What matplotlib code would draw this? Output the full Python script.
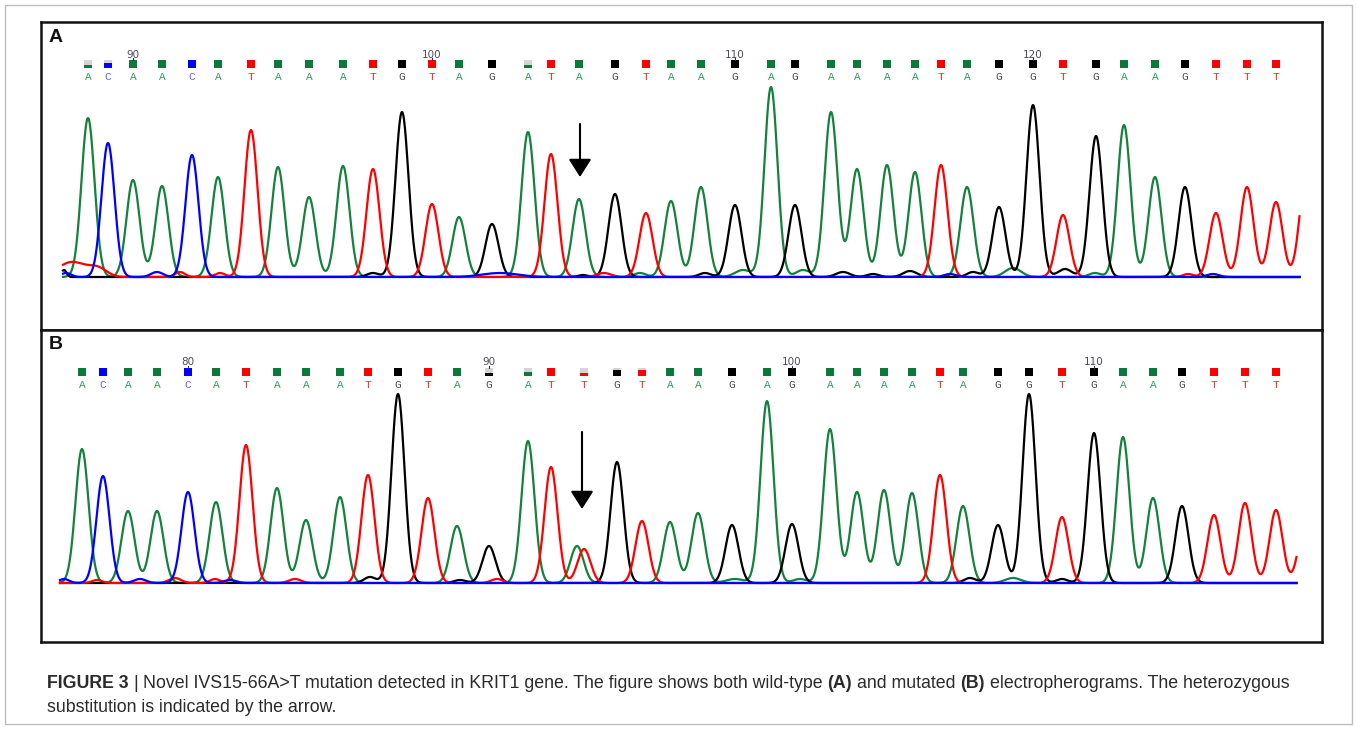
import matplotlib
matplotlib.use("Agg")
import matplotlib.pyplot as plt
from matplotlib.patches import Rectangle
import numpy as np

W, H = 1357, 729                      # taille de la figure en pixels (dpi 100)

# Panel A (wild-type) : bases appelées, position sur le tracé et hauteur des pics
BASES_A = "ACAACATAAATGTAGATAGTAAGAGAAAATAGGTGAAGTTT"
POS_A = [88, 108, 133, 162, 192, 218, 251, 278, 309, 343, 373, 402, 432, 459,
         492, 528, 551, 579, 615, 646, 671, 701, 735, 771, 795, 831, 857, 887, 915,
         941, 967, 999, 1033, 1063, 1096, 1124, 1155, 1185, 1216, 1247, 1276]
HAUT_A = [159, 134, 97, 91, 122, 100, 147, 110, 80, 111, 108, 165, 73, 60,
          53, 145, 123, 78, 83, 64, 76, 90, 72, 190, 72, 165, 108, 112, 105,
          112, 90, 70, 172, 62, 141, 152, 100, 90, 64, 90, 75]
QUAL_A = {0: 0.35, 1: 0.6, 15: 0.4}          # qualité (fraction colorée du carré)
PREMIER_A = 88                                # numéro de la première base
# petits pics de bruit / pics partiels : (base, position, hauteur, largeur)
MINEURS_A = [('T', 72, 15, 14), ('T', 98, 8, 9), ('G', 64, 7, 2.5), ('C', 66, 4, 5),
             ('C', 157, 5, 6), ('T', 180, 5, 5), ('T', 220, 4, 5), ('G', 373, 4, 6),
             ('C', 500, 4, 18), ('G', 583, 2, 5), ('T', 604, 4, 7), ('A', 640, 4, 6),
             ('G', 705, 4, 6), ('A', 743, 7, 8), ('A', 803, 7, 7), ('G', 843, 5, 7),
             ('G', 873, 3, 6), ('G', 910, 6, 7), ('C', 950, 3, 6), ('G', 973, 5, 6),
             ('A', 1013, 9, 8), ('G', 1065, 8, 7), ('A', 1095, 4, 6), ('T', 1188, 3, 5),
             ('C', 1213, 3, 6), ('T', 1306, 100, 6.5)]
DEBUT_A, FIN_A = 63, 1300
BASELINE_A = 277
FLECHE_A = (580, 153, 100)

# Panel B (mutated)
BASES_B = "ACAACATAAATGTAGATTGTAAGAGAAAATAGGTGAAGTTT"
POS_B = [82, 103, 128, 157, 188, 216, 246, 277, 306, 340, 368, 398, 428, 457,
         489, 528, 551, 584, 617, 642, 670, 698, 732, 767, 792, 830, 857, 884, 912,
         940, 963, 998, 1029, 1062, 1094, 1123, 1153, 1182, 1214, 1245, 1276]
HAUT_B = [134, 107, 72, 72, 91, 81, 138, 95, 63, 86, 108, 189, 85, 57,
          37, 142, 116, 34, 121, 62, 61, 70, 58, 182, 59, 154, 91, 93, 90,
          108, 77, 58, 189, 66, 150, 146, 85, 77, 68, 80, 73]
QUAL_B = {14: 0.3, 15: 0.5, 17: 0.3, 18: 0.75, 19: 0.75}
PREMIER_B = 76
MINEURS_B = [('C', 64, 4, 5), ('T', 97, 3, 5), ('C', 140, 4, 6), ('T', 175, 5, 6),
             ('T', 215, 4, 5), ('C', 230, 3, 6), ('T', 295, 4, 6), ('G', 370, 6, 6),
             ('G', 460, 3, 6), ('T', 497, 4, 6), ('A', 577, 37, 6.5), ('A', 735, 4, 9),
             ('A', 800, 4, 7), ('G', 970, 5, 6), ('A', 1013, 5, 8), ('G', 1062, 4, 6),
             ('T', 1305, 60, 6.5)]
DEBUT_B, FIN_B = 60, 1297
BASELINE_B = 583
FLECHE_B = (582, 151, 74)

COUL_TRACE = {'A': '#14823c', 'C': '#0000ff', 'G': '#000000', 'T': '#ff0000'}
COUL_CARRE = {'A': '#0a7a3a', 'C': '#0000ff', 'G': '#000000', 'T': '#ff0000'}
COUL_LETTRE = {'A': '#2e9a55', 'C': '#6a5cff', 'G': '#4a4a5a', 'T': '#f02828'}
SIGMA = 6.5


def trace(base, bases, pos, haut, mineurs, x):
    '''Somme des pics d'une base (gaussiennes) le long du tracé.'''
    y = np.zeros_like(x)
    for b, p, h in zip(bases, pos, haut):
        if b == base:
            y += h * np.exp(-(x - p) ** 2 / (2 * SIGMA ** 2))
    for b, p, h, s in mineurs:
        if b == base:
            y += h * np.exp(-(x - p) ** 2 / (2 * s ** 2))
    return y


def panneau(haut_px, bas_px, baseline, bases, pos, haut, qual, premier,
            mineurs, debut, fin, fleche, lettre):
    ax = fig.add_axes([41 / W, 1 - bas_px / H, (1322 - 41) / W, (bas_px - haut_px) / H])
    ax.set_xlim(41, 1322)
    ax.set_ylim(baseline - bas_px, baseline - haut_px)   # 1 unité = 1 pixel
    ax.set_xticks([])
    ax.set_yticks([])
    for sp in ax.spines.values():
        sp.set_linewidth(1.8)
        sp.set_color('#111111')

    x = np.arange(debut, fin, 0.5)
    for b in ['A', 'G', 'T', 'C']:
        ax.plot(x, trace(b, bases, pos, haut, mineurs, x), color=COUL_TRACE[b],
                lw=1.6, solid_joinstyle='round')

    y_carre = baseline - (haut_px + 42)
    y_lettre = y_carre - 13
    y_num = y_carre + 9.5
    c = 7.5
    for i, (b, p) in enumerate(zip(bases, pos)):
        q = qual.get(i, 1.0)
        if q < 1:
            ax.add_patch(Rectangle((p - c / 2, y_carre - c / 2), c, c, color='#d4d4d4', lw=0))
        ax.add_patch(Rectangle((p - c / 2, y_carre - c / 2), c, c * q,
                               color=COUL_CARRE[b], lw=0))
        ax.text(p, y_lettre, b, ha='center', va='center', fontsize=8,
                family='Liberation Mono', color=COUL_LETTRE[b])
        n = premier + i
        if n % 10 == 0:
            ax.text(p, y_num, str(n), ha='center', va='center', fontsize=7.5,
                    family='DejaVu Sans', color='#4a4a5c')
            ax.plot([p, p], [y_carre + c / 2, y_carre + c / 2 + 2.5], color='#333333', lw=0.8)

    xf, y0, y1 = fleche
    ax.annotate('', xy=(xf, y1), xytext=(xf, y0),
                arrowprops=dict(arrowstyle='-|>,head_length=1.1,head_width=0.7',
                                lw=1.5, color='black', shrinkA=0, shrinkB=0))
    ax.text(56, baseline - (haut_px + 15), lettre, ha='center', va='center',
            fontsize=14, fontweight='bold', family='Liberation Sans', color='#111111')
    return ax


fig = plt.figure(figsize=(W / 100, H / 100), dpi=100)
fig.add_artist(Rectangle((5 / W, 1 - 724 / H), 1347 / W, 719 / H, transform=fig.transFigure,
                         fill=False, ec='#bdbdbd', lw=1))

panneau(22, 330, BASELINE_A, BASES_A, POS_A, HAUT_A, QUAL_A, PREMIER_A,
        MINEURS_A, DEBUT_A, FIN_A, FLECHE_A, 'A')
panneau(330, 642, BASELINE_B, BASES_B, POS_B, HAUT_B, QUAL_B, PREMIER_B,
        MINEURS_B, DEBUT_B, FIN_B, FLECHE_B, 'B')

# Légende de la figure (texte gras / normal mélangé)
LIGNE1 = [("FIGURE 3", 'bold'), ("|", 'normal'),
          ("Novel IVS15-66A>T mutation detected in KRIT1 gene. The figure shows both wild-type", 'normal'),
          ("(A)", 'bold'), ("and mutated", 'normal'), ("(B)", 'bold'),
          ("electropherograms. The heterozygous", 'normal')]
LIGNE2 = [("substitution is indicated by the arrow.", 'normal')]
TAILLE = 12.8
rend = fig.canvas.get_renderer()


def largeur(s, poids='normal'):
    t = fig.text(0, 0, s, fontsize=TAILLE, fontweight=poids, family='Liberation Sans')
    w = t.get_window_extent(rend).width
    t.remove()
    return w


ESP = largeur("x x") - largeur("xx")


def texte_mixte(morceaux, x, y):
    for txt, poids in morceaux:
        t = fig.text(x / W, 1 - y / H, txt, fontsize=TAILLE, fontweight=poids,
                     family='Liberation Sans', color='#2b2b2b', va='center')
        x += t.get_window_extent(rend).width + ESP


texte_mixte(LIGNE1, 47, 683)
texte_mixte(LIGNE2, 47, 708)

fig.savefig("out.png", dpi=100)
